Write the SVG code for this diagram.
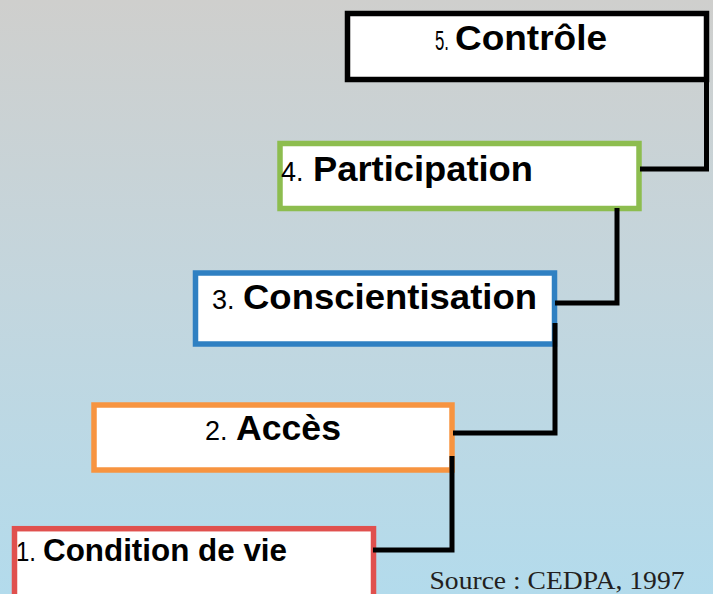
<svg xmlns="http://www.w3.org/2000/svg" width="713" height="594" viewBox="0 0 713 594">
  <defs>
    <linearGradient id="bg" x1="0" y1="0" x2="0" y2="1">
      <stop offset="0" stop-color="#cfcfcd"/>
      <stop offset="0.5" stop-color="#c3d6de"/>
      <stop offset="1" stop-color="#b3dbec"/>
    </linearGradient>
    <style>
      .box { fill: #ffffff; stroke-width: 5.5; }
      .num { font-family: "Liberation Sans", Arial, sans-serif; font-size: 27px; fill: #000; }
      .lbl { font-family: "Liberation Sans", Arial, sans-serif; font-size: 35px; font-weight: bold; fill: #000; }
      .link { fill: none; stroke: #000; stroke-width: 5; stroke-linejoin: miter; stroke-linecap: butt; }
      .src { font-family: "Liberation Serif", "Times New Roman", serif; font-size: 26px; fill: #231f20; }
    </style>
  </defs>

  <rect width="713" height="594" fill="url(#bg)"/>

  <!-- step 5 -->
  <g id="step5">
    <rect class="box" x="347.5" y="13.5" width="359" height="66" stroke="#000" stroke-width="5"/>
    <text class="num" x="435" y="50" textLength="14" lengthAdjust="spacingAndGlyphs">5.</text>
    <text class="lbl" x="455" y="50" textLength="152" lengthAdjust="spacingAndGlyphs">Contrôle</text>
  </g>

  <!-- step 4 -->
  <g id="step4">
    <rect class="box" x="280" y="143.5" width="359" height="65" stroke="#8dbd4f"/>
    <text class="num" x="281" y="181">4.</text>
    <text class="lbl" x="313" y="181" textLength="220" lengthAdjust="spacingAndGlyphs">Participation</text>
  </g>

  <!-- step 3 -->
  <g id="step3">
    <rect class="box" x="195.5" y="273" width="359" height="71" stroke="#2f80c2"/>
    <text class="num" x="212" y="309">3.</text>
    <text class="lbl" x="243" y="309" textLength="294" lengthAdjust="spacingAndGlyphs">Conscientisation</text>
  </g>

  <!-- step 2 -->
  <g id="step2">
    <rect class="box" x="94" y="405" width="358" height="65" stroke="#f79440"/>
    <text class="num" x="205" y="440">2.</text>
    <text class="lbl" x="236" y="440" textLength="105" lengthAdjust="spacingAndGlyphs">Accès</text>
  </g>

  <!-- step 1 -->
  <g id="step1">
    <rect class="box" x="14.5" y="528.7" width="359" height="70" stroke="#e0504e"/>
    <text class="num" x="16" y="561" textLength="20" lengthAdjust="spacingAndGlyphs">1.</text>
    <text class="lbl" x="43" y="561" style="font-size:32px" textLength="244" lengthAdjust="spacingAndGlyphs">Condition de vie</text>
  </g>

  <!-- stair connectors -->
  <g id="connectors">
    <path class="link" d="M706.5,79 V169 H640"/>
    <path class="link" d="M617,208 V303 H555"/>
    <path class="link" d="M555,323 V433 H453"/>
    <path class="link" d="M452,456 V550 H373"/>
  </g>

  <text class="src" x="429.5" y="589" textLength="255" lengthAdjust="spacingAndGlyphs">Source : CEDPA, 1997</text>
</svg>
